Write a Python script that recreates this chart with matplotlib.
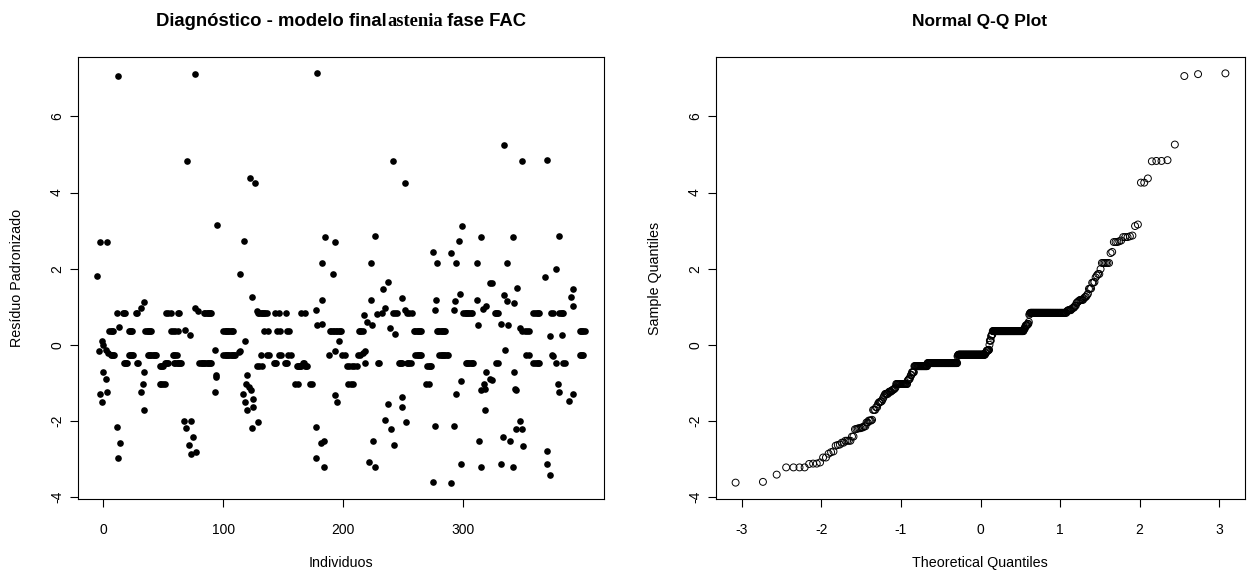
import statistics

import numpy as np
import matplotlib
matplotlib.use('Agg')
import matplotlib.pyplot as plt

plt.rcParams['font.family'] = ['Liberation Sans', 'DejaVu Sans']
plt.rcParams['axes.unicode_minus'] = False

# níveis em que muitos resíduos se repetem
niveis = [0.84, 0.36, -0.26, -0.48, -0.56, -1.03]

# indivíduos em cada nível
ids_084 = [11, 16, 17, 18, 27, 28, 52, 54, 56,
           62, 63, 84, 85, 86, 87, 88, 89, 90,
           129, 130, 131, 132, 133, 134, 135, 136, 143, 146, 152, 165, 168,
           232, 241, 243, 245, 253, 255, 257,
           300, 301, 302, 303, 304, 305, 306, 307, 326, 327, 328, 329, 358,
           360, 361, 362, 363, 373, 375, 380, 381, 382, 383]
ids_036 = [5, 6, 7, 8, 21, 22, 23, 24, 35, 36, 37, 38, 39, 40, 56,
           58, 60, 62, 100, 101, 102, 103, 104, 105, 106, 107, 108, 134,
           137, 145, 147, 153, 155, 189, 190, 191, 192, 194, 195, 196, 197, 198,
           213, 214, 215, 216, 259, 260, 261, 262, 263, 264, 265,
           278, 279, 280, 281, 282, 283, 284, 285, 349, 351, 353, 355,
           397, 398, 399, 400, 401]
ids_m026 = [6, 7, 8, 9, 21, 22, 23, 24, 25, 37, 38, 39, 40, 41, 42, 43, 44,
            58, 59, 60, 61,
            100, 101, 102, 103, 104, 105, 106, 107, 108, 109, 110, 131,
            136, 138, 146, 148, 154, 156, 199, 201,
            212, 214, 260, 261, 262, 263, 264, 265,
            280, 281, 282, 283, 284, 285, 286, 287, 352, 355,
            374, 397, 398, 399, 400]
ids_m048 = [17, 18, 19, 20, 28, 29, 51, 52, 53, 54,
            59, 60, 61, 62, 63, 64, 65, 80, 81, 82, 83, 84, 85, 86, 87, 88, 89, 90,
            142, 143, 144, 151, 152, 153, 166, 167,
            218, 229, 230, 246, 247, 248, 249, 253, 254, 255, 256,
            302, 303, 304, 305, 306, 307, 308, 327, 329, 358,
            360, 361, 362, 363, 377, 383, 385]
ids_m056 = [47, 48, 49, 50, 128, 130, 132, 161, 162, 163, 164, 165, 168, 169, 170,
            203, 205, 207, 209, 211, 270, 271, 272, 273]
ids_m103 = [33, 47, 48, 50, 51, 119, 160, 162, 172, 174,
            204, 206, 208, 269, 271, 317, 379]

# demais resíduos, por trecho do eixo de indivíduos
ind_b1 = [-5, -4, -3, 3, -3, -1, 0, 2, 3, -1, 0, 2, 4, 13, 11, 14, 12, 12,
          31, 34, 34, 31, 34]
res_b1 = [1.82, -0.15, 2.70, 2.70, -1.29, -1.51, -0.72, -0.90, -1.23, 0.11,
          0.00, -0.13, -0.22, 0.48, -2.17, -2.57, -2.96, 7.06, 0.97, 1.12,
          -0.72, -1.23, -1.71]

ind_b2 = [76, 70, 122, 126, 95, 117, 114, 124, 76, 79, 128, 68, 72, 118, 93,
          113, 114, 94, 94, 93, 120, 121, 123, 116, 118, 120, 125, 125, 129,
          124, 67, 73, 69, 75, 71, 73, 77]
res_b2 = [7.11, 4.83, 4.37, 4.26, 3.16, 2.74, 1.86, 1.26, 0.96, 0.88, 0.90,
          0.40, 0.25, 0.11, -0.14, -0.20, -0.15, -0.79, -0.85, -1.23, -0.80,
          -1.12, -1.19, -1.29, -1.49, -1.71, -1.43, -1.64, -2.04, -2.19, -1.99,
          -1.99, -2.19, -2.41, -2.62, -2.86, -2.82]

ind_b3 = [178, 185, 193, 182, 191, 182, 177, 178, 182, 196, 188, 193, 177,
          181, 184, 177, 184, 193, 195]
res_b3 = [7.13, 2.83, 2.70, 2.15, 1.86, 1.18, 0.91, 0.51, 0.55, 0.11, -0.28,
          -0.15, -2.17, -2.57, -2.52, -2.96, -3.22, -1.33, -1.51]

ind_b4 = [241, 251, 226, 223, 275, 278, 237, 233, 223, 249, 277, 276, 235,
          251, 228, 217, 220, 224, 239, 243, 216, 218, 237, 249, 249, 235,
          240, 252, 242, 225, 221, 226, 276, 275]
res_b4 = [4.83, 4.26, 2.85, 2.15, 2.44, 2.15, 1.65, 1.47, 1.18, 1.22, 1.18,
          0.91, 0.98, 0.91, 0.82, 0.79, 0.60, 0.51, 0.43, 0.28, -0.22, -0.17,
          -1.55, -1.38, -1.64, -1.97, -2.21, -2.04, -2.63, -2.52, -3.09,
          -3.22, -2.14, -3.60]

ind_b5 = [334, 349, 299, 315, 341, 296, 290, 294, 311, 336, 322, 324, 345,
          297, 311, 319, 316, 334, 336, 342, 293, 292, 312, 331, 337, 347,
          335, 319, 322, 324, 298, 342, 315, 318, 343, 344, 294, 318, 292,
          313, 333, 339, 347, 344, 349, 350, 298, 315, 331, 341, 290]
res_b5 = [5.26, 4.82, 3.12, 2.83, 2.83, 2.72, 2.41, 2.15, 2.15, 2.15, 1.63,
          1.63, 1.48, 1.34, 1.18, 1.03, 0.94, 1.30, 1.14, 1.10, 1.16, 0.91,
          0.53, 0.55, 0.51, 0.43, -0.14, -0.72, -0.90, -0.92, -0.94, -0.72,
          -1.20, -1.16, -1.15, -1.18, -1.29, -1.71, -2.14, -2.52, -2.41,
          -2.52, -1.99, -2.20, -2.22, -2.65, -3.12, -3.22, -3.12, -3.22, -3.62]

ind_b6 = [370, 380, 377, 368, 391, 390, 391, 372, 382, 375, 380, 391, 388,
          370, 370, 372]
res_b6 = [4.85, 2.87, 1.99, 1.77, 1.47, 1.25, 1.02, 0.22, 0.26, -0.30, -1.25,
          -1.29, -1.48, -2.80, -3.13, -3.41]

grupos = [ids_084, ids_036, ids_m026, ids_m048, ids_m056, ids_m103]
blocos_ind = [ind_b1, ind_b2, ind_b3, ind_b4, ind_b5, ind_b6]
blocos_res = [res_b1, res_b2, res_b3, res_b4, res_b5, res_b6]

individuo = np.concatenate([np.array(g, float) for g in grupos] +
                           [np.array(b, float) for b in blocos_ind])
residuo = np.concatenate([np.full(len(g), v) for g, v in zip(grupos, niveis)] +
                         [np.array(b, float) for b in blocos_res])

# quantis teóricos como no qqnorm do R: ppoints(n) = (i - 0.5) / n
n = len(residuo)
normal = statistics.NormalDist()
teoricos = np.array([normal.inv_cdf((i - 0.5) / n) for i in range(1, n + 1)])
amostrais = np.sort(residuo)

W, H = 1254, 575
fig = plt.figure(figsize=(W / 100, H / 100), dpi=100)
ax1 = fig.add_axes([78 / W, 1 - 499 / H, (604 - 78) / W, (499 - 57) / H])
ax2 = fig.add_axes([716 / W, 1 - 499 / H, (1245 - 716) / W, (499 - 57) / H])

ax1.scatter(individuo, residuo, s=23, c='black', linewidths=0)
ax2.scatter(teoricos, amostrais, s=25, facecolors='none',
            edgecolors='black', linewidths=0.7)

for ax in (ax1, ax2):
    ax.margins(0.04)
    ax.set_yticks([-4, -2, 0, 2, 4, 6])
    ax.tick_params(direction='out', length=6, width=0.8, labelsize=10,
                   colors='black')
    ax.tick_params(axis='x', pad=11)
    ax.tick_params(axis='y', pad=4, labelrotation=90)
    for lab in ax.get_yticklabels():
        lab.set_va('center')
    for s in ax.spines.values():
        s.set_linewidth(0.8)

ax1.set_xticks([0, 100, 200, 300])
ax2.set_xticks([-3, -2, -1, 0, 1, 2, 3])

# rótulos dos eixos
fig.text(341 / W, 1 - 563 / H, 'Individuos', ha='center', va='center', fontsize=10.3)
fig.text(17 / W, 1 - 278 / H, 'Resíduo Padronizado', ha='center', va='center',
         rotation=90, fontsize=10.3)
fig.text(980 / W, 1 - 563 / H, 'Theoretical Quantiles', ha='center', va='center',
         fontsize=10.3)
fig.text(655 / W, 1 - 278 / H, 'Sample Quantiles', ha='center', va='center',
         rotation=90, fontsize=10.3)

# título do painel da esquerda, com a palavra do meio em fonte serifada
fig.canvas.draw()
renderer = fig.canvas.get_renderer()
partes = [('Diagnóstico - modelo final', 'Liberation Sans', 0),
          ('astenia', 'Liberation Serif', 0),
          ('fase FAC', 'Liberation Sans', 4)]
base_y = 1 - 26 / H
objs, larguras = [], []
for texto, familia, folga in partes:
    t = fig.text(0, base_y, texto, family=familia, weight='bold', fontsize=13.3,
                 ha='left', va='baseline')
    objs.append(t)
    larguras.append(t.get_window_extent(renderer).width + folga)
x = 341 - sum(larguras) / 2
for t, w, (_, _, folga) in zip(objs, larguras, partes):
    t.set_x((x + folga) / W)
    x += w

fig.text(980 / W, base_y, 'Normal Q-Q Plot', ha='center', va='baseline',
         weight='bold', fontsize=12.5)

fig.savefig('out.png', dpi=100)
